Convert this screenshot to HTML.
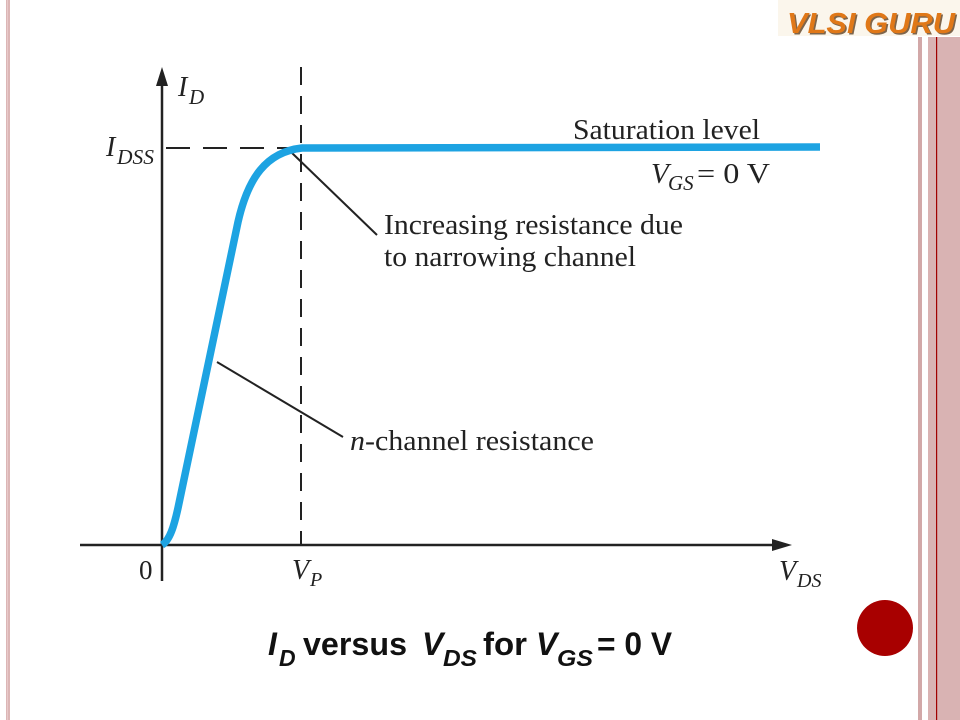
<!DOCTYPE html>
<html>
<head>
<meta charset="utf-8">
<style>
html,body{margin:0;padding:0;background:#fff;}
body{width:960px;height:720px;overflow:hidden;position:relative;}
svg{position:absolute;left:0;top:0;}
.s{font-family:"Liberation Serif",serif;fill:#222;}
.a{font-family:"Liberation Sans",sans-serif;font-weight:bold;fill:#111;}
</style>
</head>
<body>
<svg width="960" height="720" viewBox="0 0 960 720" xmlns="http://www.w3.org/2000/svg">
  <!-- left border line -->
  <rect x="6" y="0" width="4" height="720" fill="#dcb6b6"/>
  <rect x="7" y="0" width="1" height="720" fill="#e8caca"/>
  <!-- right stripes -->
  <rect x="918" y="37" width="4" height="683" fill="#d2a8a8"/>
  <rect x="928" y="37" width="32" height="683" fill="#d9b3b3"/>
  <rect x="936" y="37" width="1.2" height="683" fill="#a00000"/>
  <!-- logo -->
  <rect x="778" y="0" width="182" height="36" fill="#fbf6ec"/>
  <text x="787" y="33" font-family="Liberation Sans,sans-serif" font-weight="bold" font-style="italic" font-size="29" fill="#4a2808" opacity="0.7" textLength="168" lengthAdjust="spacingAndGlyphs" transform="translate(1.5,1.5)">VLSI GURU</text>
  <text x="787" y="33" font-family="Liberation Sans,sans-serif" font-weight="bold" font-style="italic" font-size="29" fill="#e07818" textLength="168" lengthAdjust="spacingAndGlyphs">VLSI GURU</text>

  <!-- red circle -->
  <circle cx="885" cy="628" r="28" fill="#a80000"/>

  <!-- axes -->
  <line x1="162" y1="80" x2="162" y2="581" stroke="#222" stroke-width="2.5"/>
  <polygon points="162,67 156,86 168,86" fill="#222"/>
  <line x1="80" y1="545" x2="778" y2="545" stroke="#222" stroke-width="2.5"/>
  <polygon points="792,545 772,539 772,551" fill="#222"/>

  <!-- dashed lines -->
  <line x1="301" y1="67" x2="301" y2="545" stroke="#222" stroke-width="2" stroke-dasharray="18,11"/>
  <line x1="166" y1="148" x2="300" y2="148" stroke="#222" stroke-width="2" stroke-dasharray="24,13"/>

  <!-- leader lines -->
  <line x1="292" y1="153" x2="377" y2="235" stroke="#222" stroke-width="2"/>
  <line x1="217" y1="362" x2="343" y2="437" stroke="#222" stroke-width="2"/>

  <!-- curve -->
  <path d="M162,545 C170,540 174,526 178,508 L238,222 C248,178 266,152 302,148 L820,147" fill="none" stroke="#1da3e2" stroke-width="7.5" stroke-linejoin="round"/>

  <!-- labels -->
  <text class="s" x="178" y="96" font-size="28" font-style="italic">I</text>
  <text class="s" x="189" y="104" font-size="21" font-style="italic">D</text>

  <text class="s" x="106" y="156" font-size="28" font-style="italic">I</text>
  <text class="s" x="117" y="164" font-size="21" font-style="italic" textLength="37" lengthAdjust="spacingAndGlyphs">DSS</text>

  <text class="s" x="139" y="579" font-size="27">0</text>
  <text class="s" x="292" y="579" font-size="28" font-style="italic">V</text>
  <text class="s" x="310" y="586" font-size="20" font-style="italic">P</text>
  <text class="s" x="779" y="580" font-size="28" font-style="italic">V</text>
  <text class="s" x="797" y="587" font-size="20" font-style="italic">DS</text>

  <text class="s" x="573" y="139" font-size="29" textLength="187" lengthAdjust="spacingAndGlyphs">Saturation level</text>
  <text class="s" x="651" y="183" font-size="29" font-style="italic">V</text>
  <text class="s" x="668" y="190" font-size="21" font-style="italic">GS</text>
  <text class="s" x="697" y="183" font-size="29" textLength="73" lengthAdjust="spacingAndGlyphs">= 0 V</text>

  <text class="s" x="384" y="234" font-size="29" textLength="299" lengthAdjust="spacingAndGlyphs">Increasing resistance due</text>
  <text class="s" x="384" y="266" font-size="29" textLength="252" lengthAdjust="spacingAndGlyphs">to narrowing channel</text>

  <text class="s" x="350" y="450" font-size="29" textLength="244" lengthAdjust="spacingAndGlyphs"><tspan font-style="italic">n</tspan>-channel resistance</text>

  <!-- caption -->
  <text class="a" x="268" y="655" font-size="32" font-style="italic">I</text>
  <text class="a" x="279" y="666" font-size="23" font-style="italic">D</text>
  <text class="a" x="303" y="655" font-size="32" textLength="104" lengthAdjust="spacingAndGlyphs">versus</text>
  <text class="a" x="422" y="655" font-size="32" font-style="italic">V</text>
  <text class="a" x="443" y="666" font-size="23" font-style="italic" textLength="34" lengthAdjust="spacingAndGlyphs">DS</text>
  <text class="a" x="483" y="655" font-size="32" textLength="44" lengthAdjust="spacingAndGlyphs">for</text>
  <text class="a" x="536" y="655" font-size="32" font-style="italic">V</text>
  <text class="a" x="557" y="666" font-size="23" font-style="italic" textLength="36" lengthAdjust="spacingAndGlyphs">GS</text>
  <text class="a" x="597" y="655" font-size="32" textLength="75" lengthAdjust="spacingAndGlyphs">= 0 V</text>
</svg>
</body>
</html>
